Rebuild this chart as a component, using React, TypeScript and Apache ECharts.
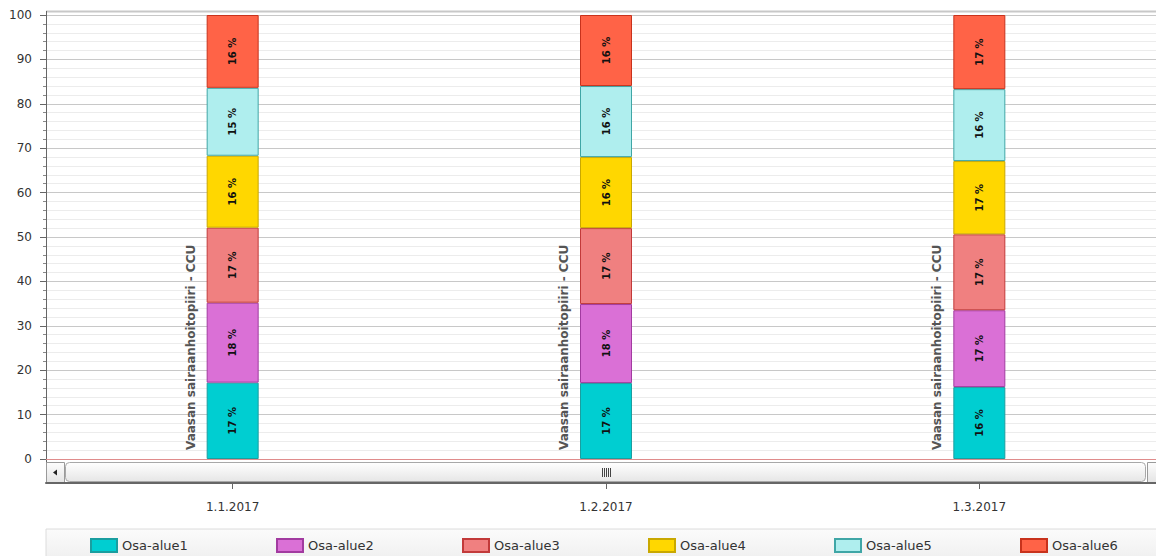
import React, { useEffect, useRef } from "react";
import * as echarts from "echarts";

const categories = ["1.1.2017", "1.2.2017", "1.3.2017"];
const groupLabel = "Vaasan sairaanhoitopiiri - CCU";
const seriesNames = ["Osa-alue1", "Osa-alue2", "Osa-alue3", "Osa-alue4", "Osa-alue5", "Osa-alue6"];
const osa1 = [17.2, 17.1, 16.2];
const osa2 = [18.0, 17.8, 17.3];
const osa3 = [16.9, 17.1, 17.1];
const osa4 = [16.2, 16.0, 16.5];
const osa5 = [15.3, 16.0, 16.2];
const osa6 = [16.4, 16.0, 16.7];
const seriesValues = [osa1, osa2, osa3, osa4, osa5, osa6];
const fills = ["#00CED1", "#DA70D6", "#F08080", "#FFD700", "#AFEEEE", "#FF6347"];
const borders = ["#1a9ea0", "#a23ba0", "#c23a3a", "#c9a800", "#3fa6a6", "#c8321c"];

const FONT = "DejaVu Sans";

export default function App() {
  const ref = useRef<HTMLDivElement>(null);
  useEffect(() => {
    document.body.style.margin = "0";
    document.body.style.overflow = "hidden";
    document.documentElement.style.overflow = "hidden";
    const chart = echarts.init(ref.current!, null, { renderer: "svg" });
    const grad = (a: string, b: string) =>
      new echarts.graphic.LinearGradient(0, 0, 0, 1, [
        { offset: 0, color: a },
        { offset: 1, color: b },
      ]);
    const bars: any[] = seriesValues.map((vals, i) => ({
      name: seriesNames[i],
      type: "bar",
      stack: "total",
      barWidth: 52,
      data: vals,
      itemStyle: { color: fills[i], borderColor: borders[i], borderWidth: 1 },
      label: {
        show: true,
        position: "inside",
        rotate: 90,
        color: "#111",
        fontFamily: FONT,
        fontWeight: "bold",
        fontSize: 10,
        formatter: (p: any) => Math.round(p.value) + " %",
      },
      ...(i === 0
        ? {
            markLine: {
              silent: true,
              symbol: "none",
              label: { show: false },
              lineStyle: { color: "#e08c8c", width: 1, type: "solid" },
              data: [{ yAxis: 0 }],
              z: 10,
            },
          }
        : {}),
    }));
    const groupSeries = {
      type: "custom",
      name: "group",
      data: categories.map((c, i) => [i]),
      encode: { x: 0 },
      silent: true,
      renderItem: (params: any, api: any) => {
        const p = api.coord([api.value(0), 0]);
        return {
          type: "text",
          x: p[0] - 42,
          y: p[1] - 9,
          rotation: Math.PI / 2,
          style: {
            text: groupLabel,
            fill: "#555",
            font: `bold 12px "${FONT}"`,
            align: "left",
            verticalAlign: "middle",
          },
        };
      },
    };
    const gripLines = [0, 2, 4, 6, 8].map((d) => ({
      type: "line",
      shape: { x1: 602.5 + d, y1: 468, x2: 602.5 + d, y2: 477 },
      style: { stroke: "#444", lineWidth: 1 },
      silent: true,
    }));
    chart.setOption({
      animation: false,
      backgroundColor: "#fff",
      grid: { left: 46, right: 0, top: 15, bottom: 97 },
      legend: {
        data: seriesNames,
        left: 90,
        top: 538,
        width: 1300,
        padding: 0,
        itemGap: 0,
        itemWidth: 26,
        itemHeight: 13,
        icon: "rect",
        textStyle: { fontFamily: FONT, fontSize: 13, color: "#333", width: 154, lineHeight: 13 },
      },
      xAxis: {
        type: "category",
        data: categories,
        offset: 24,
        axisLine: { show: true, onZero: false, lineStyle: { color: "#666", width: 2 } },
        axisTick: { show: true, alignWithLabel: true, length: 6, lineStyle: { color: "#666" } },
        axisLabel: { fontFamily: FONT, fontSize: 12, color: "#333", margin: 18 },
        splitLine: { show: false },
      },
      yAxis: {
        type: "value",
        min: 0,
        max: 100,
        interval: 10,
        axisLine: { show: true, lineStyle: { color: "#666", width: 1 } },
        axisTick: { show: true, length: 6, lineStyle: { color: "#666" } },
        minorTick: { show: true, splitNumber: 5, length: 3, lineStyle: { color: "#888" } },
        axisLabel: { fontFamily: FONT, fontSize: 12, color: "#333", margin: 14 },
        splitLine: { show: true, lineStyle: { color: "#c8c8c8", width: 1 } },
        minorSplitLine: { show: true, lineStyle: { color: "#ececec", width: 1 } },
      },
      graphic: [
        {
          type: "rect",
          shape: { x: 46, y: 529, width: 1130, height: 30 },
          style: { fill: grad("#fbfbfb", "#f0f0f0"), stroke: "#dcdcdc", lineWidth: 1 },
          silent: true,
          z: -10,
        },
        {
          type: "line",
          shape: { x1: 46, y1: 11.5, x2: 1166, y2: 11.5 },
          style: { stroke: "#c8c8c8", lineWidth: 2 },
          silent: true,
        },
        {
          type: "line",
          shape: { x1: 46.5, y1: 11, x2: 46.5, y2: 483 },
          style: { stroke: "#666", lineWidth: 1 },
          silent: true,
        },
        {
          type: "rect",
          shape: { x: 46.5, y: 462.5, width: 18, height: 20 },
          style: { fill: grad("#fdfdfd", "#e4e4e4"), stroke: "#9a9a9a", lineWidth: 1 },
          silent: true,
        },
        {
          type: "polygon",
          shape: { points: [[53, 472.5], [57, 469.5], [57, 475.5]] },
          style: { fill: "#222" },
          silent: true,
        },
        {
          type: "rect",
          shape: { x: 65.5, y: 462.5, width: 1080, height: 19, r: 4 },
          style: { fill: grad("#ffffff", "#e6e6e6"), stroke: "#a8a8a8", lineWidth: 1 },
          silent: true,
        },
        {
          type: "rect",
          shape: { x: 1147.5, y: 462.5, width: 18, height: 20 },
          style: { fill: grad("#fdfdfd", "#e4e4e4"), stroke: "#9a9a9a", lineWidth: 1 },
          silent: true,
        },
        ...gripLines,
      ],
      series: [...bars, groupSeries],
    });
    return () => chart.dispose();
  }, []);
  return <div ref={ref} style={{ width: 1166, height: 556 }} />;
}
